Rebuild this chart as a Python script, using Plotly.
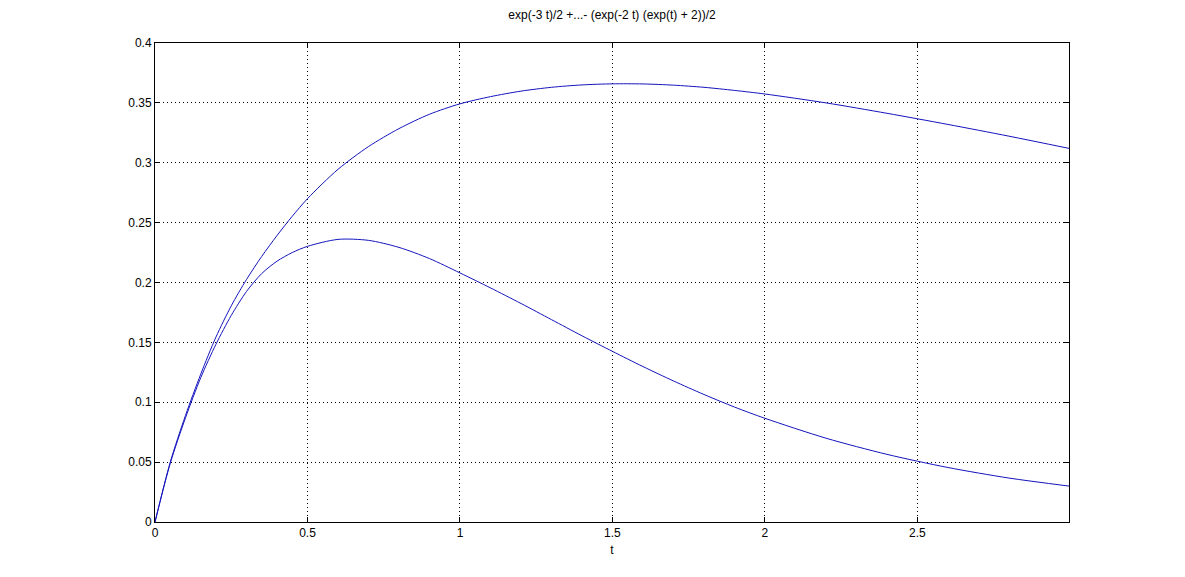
import plotly.graph_objects as go

t_values = [0, 0.05, 0.1, 0.15, 0.2, 0.25, 0.3, 0.35, 0.4, 0.45, 0.5, 0.6, 0.7, 0.8, 0.9, 1.0,
            1.1, 1.2, 1.3, 1.4, 1.5, 1.6, 1.7, 1.8, 1.9, 2.0, 2.2, 2.4, 2.6, 2.8, 2.997]
upper_values = [0, 0.050, 0.089, 0.1235, 0.1545, 0.1805, 0.2025, 0.2218, 0.2392, 0.2553, 0.2700,
                0.2945, 0.3135, 0.3285, 0.3405, 0.3492, 0.3552, 0.3598, 0.3630, 0.3650,
                0.3659, 0.3658, 0.3648, 0.3630, 0.3604, 0.3574, 0.3500, 0.3413, 0.3320,
                0.3222, 0.3120]
lower_values = [0, 0.049, 0.087, 0.1205, 0.1485, 0.1725, 0.1925, 0.2075, 0.2178, 0.2250, 0.2302,
                0.2360, 0.2352, 0.2293, 0.2200, 0.2080, 0.1955, 0.1825, 0.1690, 0.1555,
                0.1425, 0.1298, 0.1178, 0.1065, 0.0960, 0.0866, 0.0700, 0.0565, 0.0455,
                0.0367, 0.0300]
x_ticks = [0, 0.5, 1, 1.5, 2, 2.5]
y_ticks = [0, 0.05, 0.1, 0.15, 0.2, 0.25, 0.3, 0.35, 0.4]
title_text = "exp(-3 t)/2 +...- (exp(-2 t) (exp(t) + 2))/2"

line_color = "rgb(20,20,190)"
font_family = "Liberation Sans, Arial"

fig = go.Figure()
for ys in (upper_values, lower_values):
    fig.add_trace(go.Scatter(x=t_values, y=ys, mode="lines",
                             line=dict(color=line_color, width=1, shape="spline", smoothing=0.8),
                             showlegend=False, hoverinfo="skip"))

axis_common = dict(showline=True, linecolor="black", linewidth=1, mirror="ticks",
                   ticks="inside", ticklen=5, tickcolor="black", tickwidth=1,
                   showgrid=True, gridcolor="black", gridwidth=1, griddash="1px,3px",
                   zeroline=False, automargin=False,
                   tickfont=dict(family=font_family, size=12, color="black"))

fig.update_xaxes(range=[0, 2.997], tickvals=x_ticks, ticktext=[f"{v:g}" for v in x_ticks],
                 title=dict(text="t", font=dict(family=font_family, size=12, color="black"), standoff=6),
                 **axis_common)
fig.update_yaxes(range=[0, 0.4], tickvals=y_ticks, ticktext=[f"{v:g}" for v in y_ticks],
                 **axis_common)

W, H = 1177, 569
fig.update_layout(
    width=W, height=H,
    margin=dict(l=147, r=116, t=35, b=55),
    paper_bgcolor="white", plot_bgcolor="white",
    title=dict(text=title_text, x=(147 + W - 116) / 2 / W, xanchor="center",
               y=1 - 7 / H, yanchor="middle",
               font=dict(family=font_family, size=12, color="black")),
)

fig.write_html("out.html")
